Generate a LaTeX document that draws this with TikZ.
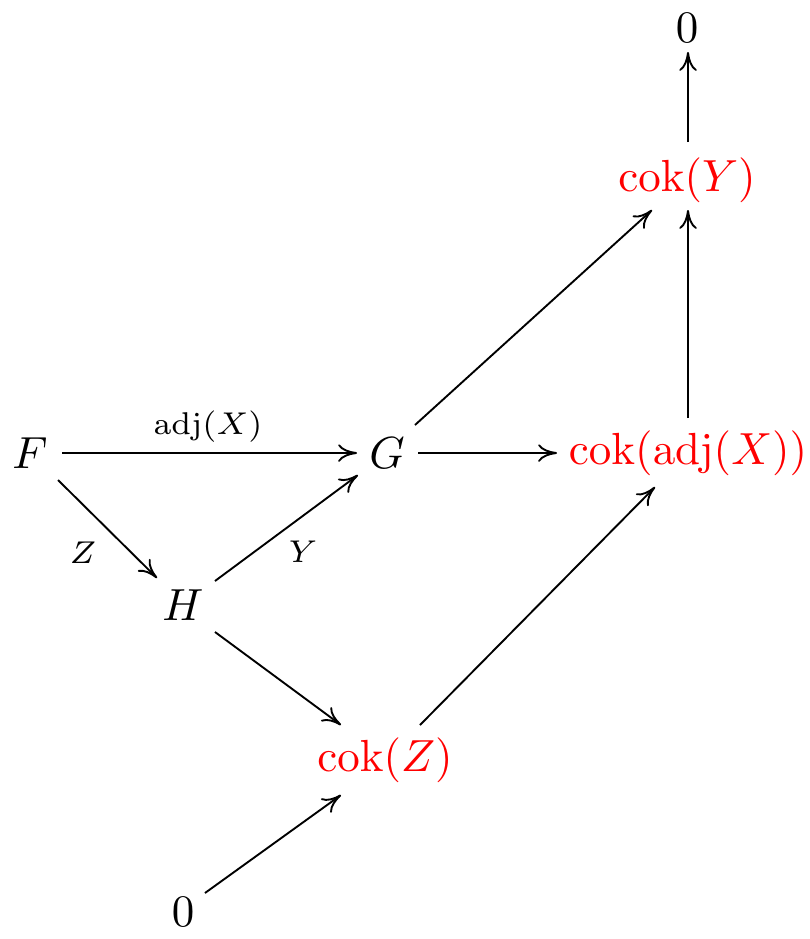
\documentclass[tikz,border=0pt]{standalone}
\usetikzlibrary{arrows.meta,calc}
\begin{document}
\begin{tikzpicture}[x=0.22222pt,y=-0.22222pt,
  obj/.style={inner sep=0pt},
  cok/.style={inner sep=0pt,text=red},
  arr/.style={draw,line width=0.42pt,-{To[length=4.2pt,width=3.9pt]}},
  lab/.style={font=\scriptsize,inner sep=0pt}]
\useasboundingbox (0,0) rectangle (810,939);
\node[obj] (F) at (30,453) {$F$};
\node[obj] (G) at (387,453) {$G$};
\node[cok] (cA) at (688,453) {$\mathrm{cok}(\mathrm{adj}(X))$};
\node[obj] (H) at (183,605) {$H$};
\node[cok] (cZ) at (385,760) {$\mathrm{cok}(Z)$};
\node[obj] (zb) at (183,912) {$0$};
\node[cok] (cY) at (687,180) {$\mathrm{cok}(Y)$};
\node[obj] (zt) at (687,28) {$0$};

\draw[arr] ($(F)+(32,0)$) -- ($(G)+(-30,0)$);
\draw[arr] ($(F)+(28,27)$) -- ($(H)+(-26,-27)$);
\draw[arr] ($(H)+(32,-24)$) -- ($(G)+(-29,22)$);
\draw[arr] ($(G)+(31,0)$) -- ($(cA)+(-131,0)$);
\draw[arr] ($(G)+(28,-28)$) -- ($(cY)+(-35,30)$);
\draw[arr] ($(cA)+(0,-35)$) -- ($(cY)+(1,30)$);
\draw[arr] ($(cY)+(1,-38)$) -- ($(zt)+(1,24)$);
\draw[arr] ($(H)+(32,27)$) -- ($(cZ)+(-44,-35)$);
\draw[arr] ($(cZ)+(35,-35)$) -- ($(cA)+(-33,34)$);
\draw[arr] ($(zb)+(22,-19)$) -- ($(cZ)+(-44,35)$);

\node[lab] (lX) at (208,427) {$\mathrm{adj}(X)$};
\node[lab] (lZ) at (83,553) {$Z$};
\node[lab] (lY) at (303,552) {$Y$};
\end{tikzpicture}
\end{document}
